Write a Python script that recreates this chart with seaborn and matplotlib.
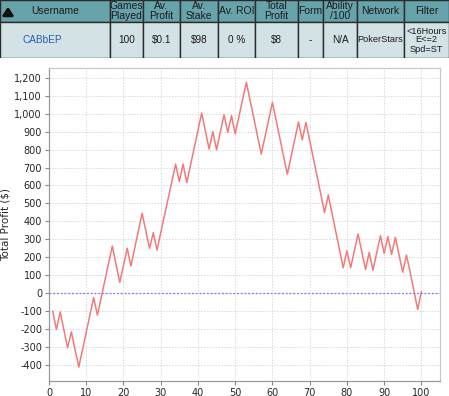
import numpy as np
import pandas as pd
import matplotlib
matplotlib.use("Agg")
import matplotlib.pyplot as plt
from matplotlib.patches import Rectangle
from matplotlib.ticker import FuncFormatter
import seaborn as sns

# table content
headers = ["Username", "Games\nPlayed", "Av.\nProfit", "Av.\nStake", "Av. ROI",
           "Total\nProfit", "Form", "Ability\n/100", "Network", "Filter"]
row = ["CABbEP", "100", "$0.1", "$98", "0 %", "$8", "-", "N/A", "PokerStars",
       "<16Hours\nE<=2\nSpd=ST"]
col_edges = [0, 110, 143, 180, 218, 255, 298, 323, 357, 404, 449]

# cumulative profit per game
games = list(range(1, 101))
profit = [-100, -203, -105, -205, -305, -216, -315, -412, -315, -218,
          -121, -25, -123, -27, 70, 166, 262, 160, 60, 155,
          250, 151, 249, 347, 445, 347, 249, 337, 240, 336,
          432, 527, 623, 719, 622, 719, 616, 713, 810, 907,
          1004, 903, 803, 901, 799, 897, 994, 896, 989, 888,
          984, 1080, 1175, 1075, 975, 875, 775, 871, 967, 1063,
          963, 863, 763, 663, 760, 857, 954, 855, 951, 851,
          751, 651, 550, 449, 547, 446, 344, 243, 141, 236,
          141, 235, 330, 231, 132, 227, 128, 224, 320, 222,
          315, 216, 311, 213, 116, 212, 114, 12, -91, 8]
df = pd.DataFrame({"Game": games, "Total Profit ($)": profit})

sns.set_style("white")
plt.rcParams["font.family"] = ["DejaVu Sans"]

W, H = 449, 396
fig = plt.figure(figsize=(W / 100, H / 100), dpi=100)

# ---- table on top ----
tax = fig.add_axes([0, 1 - 58 / H, 1, 58 / H])
tax.set_xlim(0, W)
tax.set_ylim(58, 0)
tax.axis("off")
hdr_col = "#67a3ab"
body_col = "#d3e2e5"
tfont = ["Liberation Sans", "DejaVu Sans"]
for i in range(len(headers)):
    x0, x1 = col_edges[i], col_edges[i + 1]
    tax.add_patch(Rectangle((x0, 0), x1 - x0, 22, facecolor=hdr_col,
                            edgecolor="#2b2b2b", lw=1))
    tax.add_patch(Rectangle((x0, 22), x1 - x0, 36, facecolor=body_col,
                            edgecolor="#2b2b2b", lw=1))
    cx = (x0 + x1) / 2
    tax.text(cx, 11, headers[i], ha="center", va="center", family=tfont,
             fontsize=7.5, color="#1a1a1a", linespacing=0.95)
    tax.text(cx - (13 if i == 0 else 0), 40, row[i], ha="center", va="center",
             family=tfont, fontsize=7.2 if i < 8 else 6.6,
             color="#2a5ab5" if i == 0 else "#1a1a1a", linespacing=1.0)
tax.annotate("", xy=(8, 4), xytext=(8, 17),
             arrowprops=dict(arrowstyle="-|>,head_width=0.3,head_length=0.45",
                             color="#111111", lw=2.2))

# ---- profit chart ----
ax = fig.add_axes([49 / W, 1 - 381 / H, (440 - 49) / W, (381 - 68) / H])
sns.lineplot(data=df, x="Game", y="Total Profit ($)", ax=ax,
             color="#f27a7a", lw=1.1)
ax.axhline(0, color="#7b7bea", lw=0.9, ls=(0, (1.5, 1.5)))
ax.set_xlim(0, 105)
ax.set_ylim(-490, 1255)
ax.set_xticks(range(0, 101, 10))
ax.set_yticks(range(-400, 1201, 100))
ax.yaxis.set_major_formatter(FuncFormatter(lambda v, p: f"{int(v):,}"))
ax.grid(True, color="#d9d9d9", lw=0.7, ls=(0, (1.5, 1.5)))
ax.tick_params(labelsize=7, length=3, color="#888888", pad=2,
               left=True, bottom=True)
ax.set_xlabel("")
ax.set_ylabel("Total Profit ($)", fontsize=7.5)
ax.yaxis.set_label_coords(-38 / 391, 0.5)
for s in ["top", "right"]:
    ax.spines[s].set_color("#c8c8c8")
for s in ["left", "bottom"]:
    ax.spines[s].set_color("#999999")
for s in ax.spines.values():
    s.set_linewidth(0.9)

fig.savefig("out.png", dpi=100)
